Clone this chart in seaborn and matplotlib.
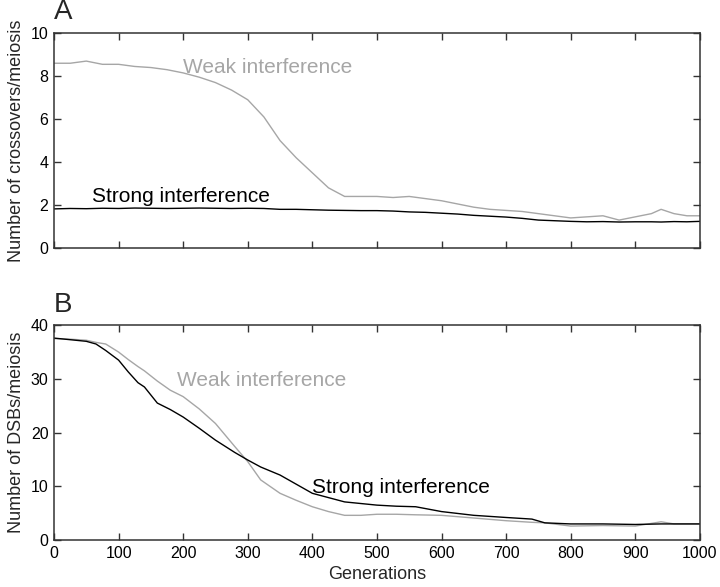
import pandas as pd
import matplotlib
matplotlib.use("Agg")
import matplotlib.pyplot as plt
import seaborn as sns

# Panel A: crossovers per meiosis
gen_a = [0, 25, 50, 75, 100, 125, 150, 175, 200, 225, 250, 275, 300, 325, 350,
         375, 400, 425, 450, 475, 500, 525, 550, 575, 600, 625, 650, 675, 700,
         725, 750, 775, 800, 825, 850, 875, 900, 925, 940, 960, 980, 1000]
weak_a = [8.6, 8.6, 8.7, 8.55, 8.55, 8.45, 8.4, 8.3, 8.15, 7.95, 7.7, 7.35, 6.9,
          6.1, 5.0, 4.2, 3.5, 2.8, 2.4, 2.4, 2.4, 2.35, 2.4, 2.3, 2.2, 2.05, 1.9,
          1.8, 1.75, 1.7, 1.6, 1.5, 1.4, 1.45, 1.5, 1.3, 1.45, 1.6, 1.8, 1.6, 1.5, 1.5]
strong_a = [1.82, 1.84, 1.83, 1.85, 1.84, 1.86, 1.85, 1.84, 1.85, 1.86, 1.85,
            1.84, 1.85, 1.84, 1.8, 1.8, 1.78, 1.76, 1.75, 1.74, 1.74, 1.72, 1.68,
            1.66, 1.62, 1.58, 1.52, 1.48, 1.44, 1.38, 1.3, 1.27, 1.24, 1.22, 1.23,
            1.21, 1.22, 1.22, 1.21, 1.23, 1.22, 1.24]

# Panel B: DSBs per meiosis
gen_b = [0, 25, 50, 65, 80, 100, 115, 130, 140, 160, 180, 200, 225, 250, 280,
         300, 320, 350, 375, 400, 425, 450, 475, 500, 530, 560, 600, 650, 700,
         740, 760, 800, 850, 900, 940, 960, 1000]
weak_b = [37.5, 37.4, 37.2, 36.8, 36.5, 35.0, 33.6, 32.3, 31.5, 29.6, 27.9, 26.7,
          24.4, 21.7, 17.4, 14.6, 11.2, 8.7, 7.4, 6.2, 5.3, 4.6, 4.6, 4.8, 4.8,
          4.7, 4.6, 4.1, 3.6, 3.3, 3.2, 2.6, 2.7, 2.6, 3.4, 3.0, 3.0]
strong_b = [37.6, 37.3, 37.0, 36.5, 35.3, 33.5, 31.3, 29.3, 28.5, 25.5, 24.3,
            22.9, 20.8, 18.6, 16.3, 14.9, 13.6, 12.1, 10.4, 8.7, 7.9, 7.1, 6.8,
            6.5, 6.3, 6.2, 5.3, 4.6, 4.2, 3.9, 3.2, 3.0, 3.0, 2.9, 3.0, 3.0, 3.0]

GRAY = "#a6a6a6"
palette = {"Weak interference": GRAY, "Strong interference": "black"}

sns.set_theme(style="ticks")
plt.rcParams["font.family"] = ["Liberation Sans", "DejaVu Sans"]
plt.rcParams.update({
    "xtick.direction": "in", "ytick.direction": "in",
    "xtick.top": True, "ytick.right": True,
    "xtick.major.size": 5, "ytick.major.size": 5,
    "xtick.major.width": 1, "ytick.major.width": 1,
    "xtick.color": "#333333", "ytick.color": "#333333",
    "xtick.labelcolor": "black", "ytick.labelcolor": "black",
})


def long_frame(gens, weak, strong):
    df_w = pd.DataFrame({"Generations": gens, "value": weak, "series": "Weak interference"})
    df_s = pd.DataFrame({"Generations": gens, "value": strong, "series": "Strong interference"})
    return pd.concat([df_w, df_s], ignore_index=True)


df_a = long_frame(gen_a, weak_a, strong_a)
df_b = long_frame(gen_b, weak_b, strong_b)

fig = plt.figure(figsize=(7.2, 5.87), dpi=100)
ax_a = fig.add_axes([0.075, 0.5775, 0.897, 0.366])
ax_b = fig.add_axes([0.075, 0.080, 0.897, 0.366])

for ax, df, ymax, ystep in [(ax_a, df_a, 10, 2), (ax_b, df_b, 40, 10)]:
    sns.lineplot(data=df, x="Generations", y="value", hue="series",
                 palette=palette, legend=False, linewidth=1.0, ax=ax)
    ax.set_xlim(0, 1000)
    ax.set_ylim(0, ymax)
    ax.set_xticks(range(0, 1001, 100))
    ax.set_yticks(range(0, ymax + 1, ystep))
    ax.tick_params(which="major", direction="in", top=True, right=True,
                   length=5, width=1, labelsize=11.5, pad=4)
    for sp in ax.spines.values():
        sp.set_color("#333333")
        sp.set_linewidth(1.1)

ax_a.tick_params(labelbottom=False)
ax_a.set_xlabel("")
ax_a.set_ylabel("Number of crossovers/meiosis", fontsize=13)
ax_b.set_xlabel("Generations", fontsize=13)
ax_b.set_ylabel("Number of DSBs/meiosis", fontsize=13)

ax_a.text(200, 8.15, "Weak interference", color=GRAY, fontsize=15, va="baseline")
ax_a.text(59, 2.14, "Strong interference", color="black", fontsize=15, va="baseline")
ax_b.text(190, 28.65, "Weak interference", color=GRAY, fontsize=15, va="baseline")
ax_b.text(399, 8.7, "Strong interference", color="black", fontsize=15, va="baseline")

ax_a.text(0, 1.065, "A", transform=ax_a.transAxes, fontsize=20, va="baseline")
ax_b.text(0, 1.06, "B", transform=ax_b.transAxes, fontsize=20, va="baseline")

fig.align_ylabels([ax_a, ax_b])
fig.savefig("out.png", dpi=100)
